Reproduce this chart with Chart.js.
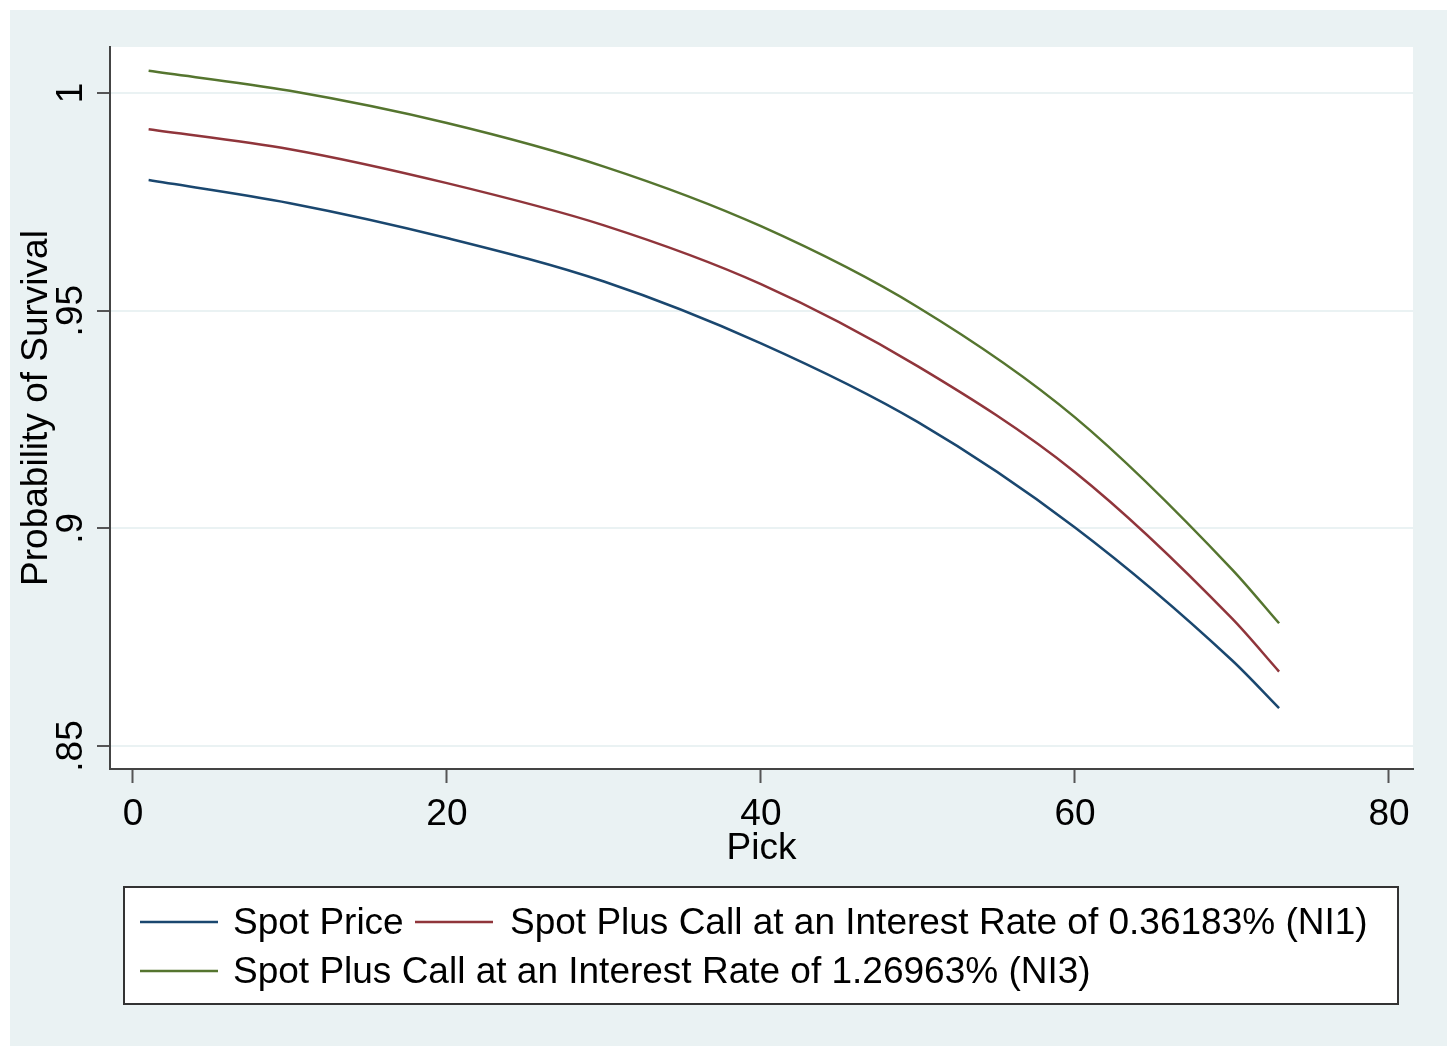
<!DOCTYPE html>
<html lang="en">
<head>
  <meta charset="UTF-8" />
  <title>Probability of Survival by Pick</title>
  <script src="https://cdn.jsdelivr.net/npm/chart.js"></script>
  <style>
    html, body { margin: 0; padding: 0; background: #fff; }
  </style>
</head>
<body>
  <canvas id="survChart" width="1451" height="1049"></canvas>

  <script>
    // values
    const picks = [1, 10, 20, 30, 40, 50, 60, 70, 73];
    const spotPrice = [0.9800, 0.9747, 0.9667, 0.9567, 0.9425, 0.9244, 0.9002, 0.8697, 0.8587];
    const spotNI1 = [0.9917, 0.9871, 0.9793, 0.9696, 0.9561, 0.9372, 0.9129, 0.8793, 0.8671];
    const spotNI3 = [1.0051, 1.0005, 0.9931, 0.9831, 0.9694, 0.9508, 0.9255, 0.8906, 0.8782];

    const seriesNames = [
      'Spot Price',
      'Spot Plus Call at an Interest Rate of 0.36183% (NI1)',
      'Spot Plus Call at an Interest Rate of 1.26963% (NI3)'
    ];
    const seriesColors = ['#1a476f', '#90353b', '#55752f'];

    const xTicks = [0, 20, 40, 60, 80];
    const yTicks = [0.85, 0.9, 0.95, 1];
    const yTickLabels = ['.85', '.9', '.95', '1'];

    const FONT = "'Liberation Sans', Arial, sans-serif";
    const BG = '#eaf2f3';

    function toPoints(ys) {
      return picks.map((p, i) => ({ x: p, y: ys[i] }));
    }

    // stata-ish background, plot region, rotated y labels and boxed legend
    const stataLook = {
      id: 'stataLook',
      beforeDraw(chart) {
        const ctx = chart.ctx;
        const a = chart.chartArea;
        ctx.save();
        ctx.fillStyle = '#fff';
        ctx.fillRect(0, 0, chart.width, chart.height);
        ctx.fillStyle = BG;
        ctx.fillRect(10, 10, 1437, 1036);
        ctx.fillStyle = '#fff';
        ctx.fillRect(a.left, a.top, a.right - a.left, a.bottom - a.top);
        ctx.restore();
      },
      afterDraw(chart) {
        const ctx = chart.ctx;
        const ys = chart.scales.y;
        ctx.save();

        // y tick labels, rotated
        ctx.fillStyle = '#000';
        ctx.font = '37px ' + FONT;
        ctx.textAlign = 'center';
        ctx.textBaseline = 'alphabetic';
        yTicks.forEach((v, i) => {
          const py = ys.getPixelForValue(v);
          ctx.save();
          ctx.translate(82, py);
          ctx.rotate(-Math.PI / 2);
          ctx.fillText(yTickLabels[i], 0, 0);
          ctx.restore();
        });

        // legend
        const box = { left: 124, top: 887, right: 1398, bottom: 1004 };
        ctx.fillStyle = '#fff';
        ctx.fillRect(box.left, box.top, box.right - box.left, box.bottom - box.top);
        ctx.strokeStyle = '#333';
        ctx.lineWidth = 2;
        ctx.strokeRect(box.left, box.top, box.right - box.left, box.bottom - box.top);

        const slots = [
          { lx: 140, tx: 233, y: 922 },
          { lx: 415, tx: 510, y: 922 },
          { lx: 140, tx: 233, y: 971 }
        ];
        ctx.font = '37px ' + FONT;
        ctx.textAlign = 'left';
        ctx.textBaseline = 'middle';
        chart.data.datasets.forEach((ds, i) => {
          const s = slots[i];
          ctx.strokeStyle = ds.borderColor;
          ctx.lineWidth = 2.5;
          ctx.beginPath();
          ctx.moveTo(s.lx, s.y);
          ctx.lineTo(s.lx + 78, s.y);
          ctx.stroke();
          ctx.fillStyle = '#000';
          ctx.fillText(ds.label, s.tx, s.y + 2);
        });
        ctx.restore();
      }
    };

    const ctx = document.getElementById('survChart').getContext('2d');

    new Chart(ctx, {
      type: 'line',
      data: {
        datasets: [spotPrice, spotNI1, spotNI3].map((ys, i) => ({
          label: seriesNames[i],
          data: toPoints(ys),
          borderColor: seriesColors[i],
          borderWidth: 2.5,
          pointRadius: 0,
          fill: false,
          cubicInterpolationMode: 'monotone'
        }))
      },
      options: {
        responsive: false,
        animation: false,
        layout: { padding: { top: 47, right: 38, bottom: 178, left: 0 } },
        plugins: {
          legend: { display: false },
          tooltip: { enabled: false }
        },
        scales: {
          x: {
            type: 'linear',
            min: -1.46,
            max: 81.53,
            afterBuildTicks: (scale) => { scale.ticks = xTicks.map(v => ({ value: v })); },
            afterFit: (scale) => { scale.height = 102; },
            ticks: {
              color: '#000',
              font: { family: FONT, size: 37 },
              padding: 10,
              maxRotation: 0,
              callback: (v) => String(v)
            },
            grid: {
              drawOnChartArea: false,
              drawTicks: true,
              tickLength: 14,
              tickColor: '#555',
              tickWidth: 2
            },
            border: { display: true, color: '#444', width: 2 },
            title: {
              display: true,
              text: 'Pick',
              color: '#000',
              font: { family: FONT, size: 37 },
              padding: 0
            }
          },
          y: {
            type: 'linear',
            min: 0.84472,
            max: 1.01057,
            afterBuildTicks: (scale) => { scale.ticks = yTicks.map(v => ({ value: v })); },
            afterFit: (scale) => { scale.width = 110; },
            ticks: { display: false },
            grid: {
              color: BG,
              lineWidth: 2,
              drawTicks: true,
              tickLength: 13,
              tickColor: '#555',
              tickWidth: 2
            },
            border: { display: true, color: '#444', width: 2 },
            title: {
              display: true,
              text: 'Probability of Survival',
              color: '#000',
              font: { family: FONT, size: 37 },
              padding: { top: 15 }
            }
          }
        }
      },
      plugins: [stataLook]
    });
  </script>
</body>
</html>
